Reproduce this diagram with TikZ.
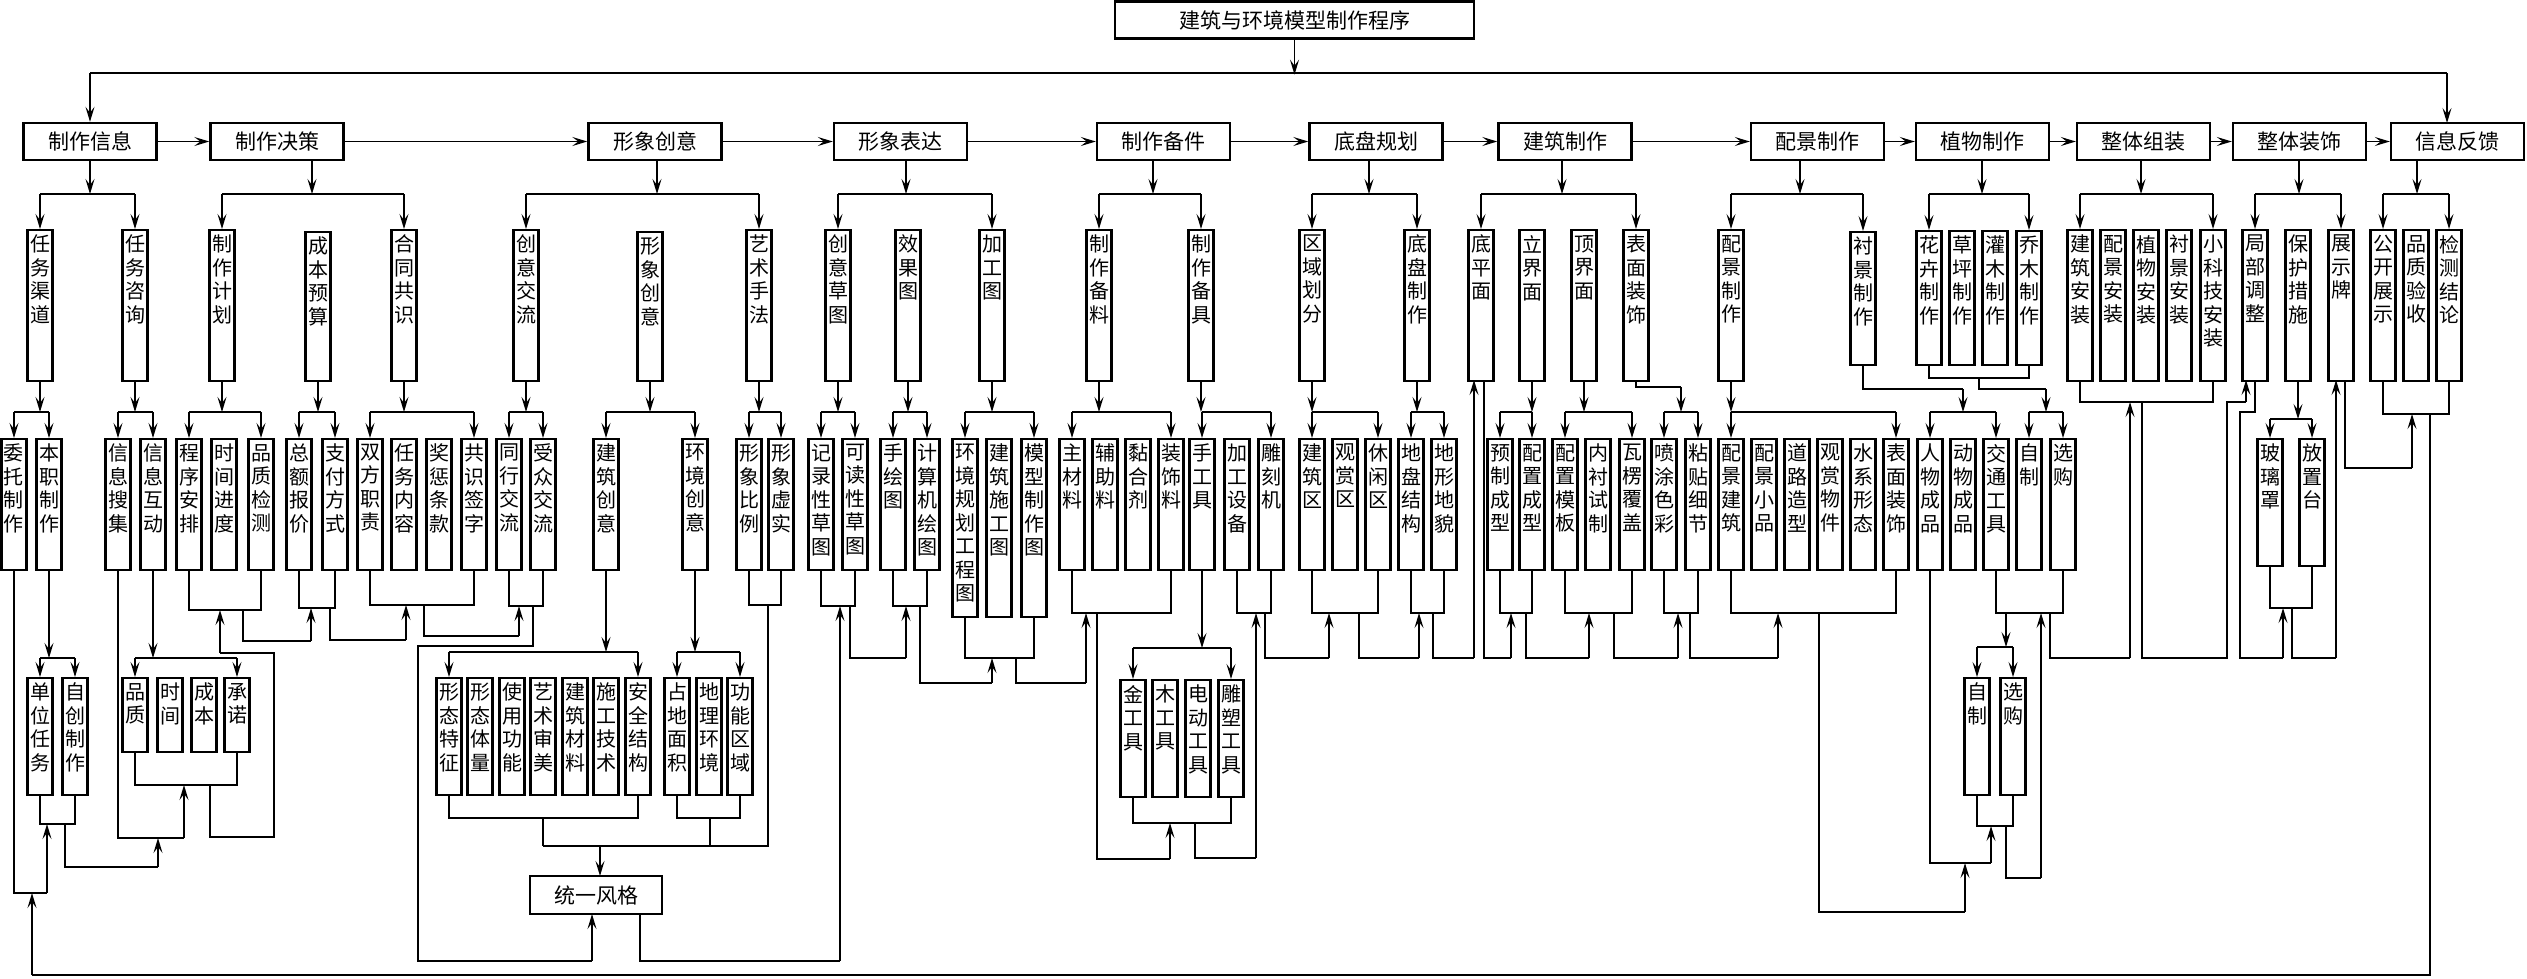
\documentclass[tikz,border=0pt]{standalone}
\usepackage{fontspec}
\setmainfont{Noto Sans CJK SC}
\usetikzlibrary{arrows.meta,calc}
\def\vtxt#1{\vtxtA#1\vtxtEnd}
\def\vtxtA#1#2\vtxtEnd{#1\ifx\relax#2\relax\else\par\vtxtA#2\vtxtEnd\fi}
\tikzset{
  mainbox/.style={draw, line width=2.4pt, minimum width=133pt, minimum height=37pt, inner sep=0pt, font=\fontsize{21}{24}\selectfont},
  vbx/.style={draw, line width=2.2pt, inner sep=0pt, anchor=north, font=\fontsize{20}{23.5}\selectfont},
  conn/.style={line width=1.4pt},
  bus/.style={line width=2.2pt},
  arr/.style={line width=1.4pt, -{Stealth[length=15pt,width=9pt,inset=6pt]}},
}
\newcommand\VB[5]{\node[vbx] (#1) at (#2,#3) {\parbox[t][#4pt][t]{25pt}{\centering\vspace*{5pt}\vtxt{#5}}};}
\newcommand\tfork[5]{\draw[conn] (#2,#1) -- (#3,#1); \draw[arr] (#2,#1) -- (#4.north); \draw[arr] (#3,#1) -- (#5.north);}
\newcommand\tmerge[5]{\draw[conn] (#4.south) -- (#2,#1) -- (#3,#1) -- (#5.south);}
\begin{document}
\begin{tikzpicture}[x=1pt,y=-1pt]
\useasboundingbox (0,0) rectangle (2527,978);
% ---------- title and main row ----------
\node[mainbox, minimum width=359pt] (t) at (1294.5,20) {建筑与环境模型制作程序};
\node[mainbox] (m1) at (90,141.5) {制作信息};
\node[mainbox] (m2) at (277,141.5) {制作决策};
\node[mainbox] (m3) at (655,141.5) {形象创意};
\node[mainbox] (m4) at (900.5,141.5) {形象表达};
\node[mainbox] (m5) at (1163.5,141.5) {制作备件};
\node[mainbox] (m6) at (1376,141.5) {底盘规划};
\node[mainbox] (m7) at (1565,141.5) {建筑制作};
\node[mainbox] (m8) at (1817.5,141.5) {配景制作};
\node[mainbox] (m9) at (1982.5,141.5) {植物制作};
\node[mainbox] (m10) at (2143.5,141.5) {整体组装};
\node[mainbox] (m11) at (2299.5,141.5) {整体装饰};
\node[mainbox] (m12) at (2457.5,141.5) {信息反馈};
\node[mainbox, minimum width=132pt, minimum height=38pt] (ty) at (596,895) {统一风格};
% ---------- level 2 ----------
\VB{A1}{40}{229}{151}{任务渠道}
\VB{A2}{135}{229}{151}{任务咨询}
\VB{B1}{222}{229}{151}{制作计划}
\VB{B2}{318}{231}{149}{成本预算}
\VB{B3}{404}{229}{151}{合同共识}
\VB{C1}{526}{229}{151}{创意交流}
\VB{C2}{650}{231}{149}{形象创意}
\VB{C3}{759}{229}{151}{艺术手法}
\VB{D1}{838}{229}{151}{创意草图}
\VB{D2}{908}{229}{151}{效果图}
\VB{D3}{992}{229}{151}{加工图}
\VB{E1}{1099}{229}{151}{制作备料}
\VB{E2}{1201}{229}{151}{制作备具}
\VB{F1}{1312}{229}{151}{区域划分}
\VB{F2}{1417}{229}{151}{底盘制作}
\VB{G1}{1481}{229}{151}{底平面}
\VB{G2}{1532}{229}{151}{立界面}
\VB{G3}{1584}{229}{151}{顶界面}
\VB{G4}{1636}{229}{151}{表面装饰}
\VB{H1}{1731}{229}{151}{配景制作}
\VB{H2}{1863}{231}{133}{衬景制作}
\VB{I1}{1929}{230}{134}{花卉制作}
\VB{I2}{1962}{230}{134}{草坪制作}
\VB{I3}{1995}{230}{134}{灌木制作}
\VB{I4}{2029}{230}{134}{乔木制作}
\VB{J1}{2080}{229}{151}{建筑安装}
\VB{J2}{2113}{229}{151}{配景安装}
\VB{J3}{2146}{229}{151}{植物安装}
\VB{J4}{2179}{229}{151}{衬景安装}
\VB{J5}{2213}{229}{151}{小科技安装}
\VB{K1}{2255}{229}{151}{局部调整}
\VB{K2}{2298}{229}{151}{保护措施}
\VB{K3}{2341}{229}{151}{展示牌}
\VB{N1}{2383}{229}{151}{公开展示}
\VB{N2}{2416}{229}{151}{品质验收}
\VB{N3}{2449}{229}{151}{检测结论}
% ---------- level 3 ----------
\VB{a1}{14}{438}{131}{委托制作}
\VB{a2}{49}{438}{131}{本职制作}
\VB{a3}{118}{438}{131}{信息搜集}
\VB{a4}{153}{438}{131}{信息互动}
\VB{b1}{189}{438}{131}{程序安排}
\VB{b2}{224}{438}{131}{时间进度}
\VB{b3}{261}{438}{131}{品质检测}
\VB{b4}{299}{438}{131}{总额报价}
\VB{b5}{335}{438}{131}{支付方式}
\VB{b6}{370}{438}{131}{双方职责}
\VB{b7}{404}{438}{131}{任务内容}
\VB{b8}{439}{438}{131}{奖惩条款}
\VB{b9}{474}{438}{131}{共识签字}
\VB{c1}{509}{438}{131}{同行交流}
\VB{c2}{543}{438}{131}{受众交流}
\VB{c3}{606}{438}{131}{建筑创意}
\VB{c4}{695}{438}{131}{环境创意}
\VB{c5}{749}{438}{131}{形象比例}
\VB{c6}{781}{438}{131}{形象虚实}
\VB{d1}{821}{438}{131}{记录性草图}
\VB{d2}{855}{438}{131}{可读性草图}
\VB{d3}{893}{438}{131}{手绘图}
\VB{d4}{927}{438}{131}{计算机绘图}
\VB{d5}{965}{438}{178}{环境规划工程图}
\VB{d6}{999}{438}{178}{建筑施工图}
\VB{d7}{1034}{438}{178}{模型制作图}
\VB{e1}{1072}{438}{131}{主材料}
\VB{e2}{1105}{438}{131}{辅助料}
\VB{e3}{1138}{438}{131}{黏合剂}
\VB{e4}{1171}{438}{131}{装饰料}
\VB{e5}{1202}{438}{131}{手工具}
\VB{e6}{1237}{438}{131}{加工设备}
\VB{e7}{1271}{438}{131}{雕刻机}
\VB{f1}{1312}{438}{131}{建筑区}
\VB{f2}{1345}{438}{131}{观赏区}
\VB{f3}{1378}{438}{131}{休闲区}
\VB{f4}{1411}{438}{131}{地盘结构}
\VB{f5}{1444}{438}{131}{地形地貌}
\VB{g1}{1500}{438}{131}{预制成型}
\VB{g2}{1532}{438}{131}{配置成型}
\VB{g3}{1565}{438}{131}{配置模板}
\VB{g4}{1598}{438}{131}{内衬试制}
\VB{g5}{1632}{438}{131}{瓦楞覆盖}
\VB{g6}{1664}{438}{131}{喷涂色彩}
\VB{g7}{1698}{438}{131}{粘贴细节}
\VB{h1}{1731}{438}{131}{配景建筑}
\VB{h2}{1764}{438}{131}{配景小品}
\VB{h3}{1797}{438}{131}{道路造型}
\VB{h4}{1830}{438}{131}{观赏物件}
\VB{h5}{1863}{438}{131}{水系形态}
\VB{h6}{1896}{438}{131}{表面装饰}
\VB{h7}{1930}{438}{131}{人物成品}
\VB{h8}{1963}{438}{131}{动物成品}
\VB{h9}{1996}{438}{131}{交通工具}
\VB{h10}{2029}{438}{131}{自制}
\VB{h11}{2063}{438}{131}{选购}
\VB{k1}{2270}{438}{127}{玻璃罩}
\VB{k2}{2312}{438}{127}{放置台}
% ---------- level 4 ----------
\VB{q1}{40}{677}{117}{单位任务}
\VB{q2}{75}{677}{117}{自创制作}
\VB{q3}{135}{677}{74}{品质}
\VB{q4}{170}{677}{74}{时间}
\VB{q5}{204}{677}{74}{成本}
\VB{q6}{237}{677}{74}{承诺}
\VB{r1}{449}{677}{117}{形态特征}
\VB{r2}{480}{677}{117}{形态体量}
\VB{r3}{512}{677}{117}{使用功能}
\VB{r4}{543}{677}{117}{艺术审美}
\VB{r5}{575}{677}{117}{建筑材料}
\VB{r6}{606}{677}{117}{施工技术}
\VB{r7}{638}{677}{117}{安全结构}
\VB{r8}{677}{677}{117}{占地面积}
\VB{r9}{709}{677}{117}{地理环境}
\VB{r10}{740}{677}{117}{功能区域}
\VB{s1}{1133}{679}{117}{金工具}
\VB{s2}{1165}{679}{117}{木工具}
\VB{s3}{1198}{679}{117}{电动工具}
\VB{s4}{1231}{679}{117}{雕塑工具}
\VB{u1}{1977}{677}{117}{自制}
\VB{u2}{2013}{677}{117}{选购}
% ---------- top bus ----------
\draw[bus] (90,73) -- (2447,73);
\draw[arr] (t.south) -- ++(0,35);
\draw[arr] (90,73) -- (m1.north);
\draw[arr] (2447,73) -- (2447,123);
% ---------- main row arrows ----------
\draw[arr] (m1.east) -- (m2.west);
\draw[arr] (m2.east) -- (m3.west);
\draw[arr] (m3.east) -- (m4.west);
\draw[arr] (m4.east) -- (m5.west);
\draw[arr] (m5.east) -- (m6.west);
\draw[arr] (m6.east) -- (m7.west);
\draw[arr] (m7.east) -- (m8.west);
\draw[arr] (m8.east) -- (m9.west);
\draw[arr] (m9.east) -- (m10.west);
\draw[arr] (m10.east) -- (m11.west);
\draw[arr] (m11.east) -- (m12.west);
% ---------- main -> level 2 ----------
\draw[arr] (m1.south) -- (90,194);            \tfork{194}{40}{135}{A1}{A2}
\draw[arr] ($(m2.south)+(35,0)$) -- (312,194); \tfork{194}{222}{404}{B1}{B3}
\draw[arr] ($(m3.south)+(2,0)$) -- (657,194);  \tfork{194}{526}{759}{C1}{C3}
\draw[arr] ($(m4.south)+(5.5,0)$) -- (906,194); \tfork{194}{838}{992}{D1}{D3}
\draw[arr] ($(m5.south)+(-10.5,0)$) -- (1153,194); \tfork{194}{1099}{1201}{E1}{E2}
\draw[arr] ($(m6.south)+(-7,0)$) -- (1369,194); \tfork{194}{1312}{1417}{F1}{F2}
\draw[arr] ($(m7.south)+(-3,0)$) -- (1562,194); \tfork{194}{1481}{1636}{G1}{G4}
\draw[arr] ($(m8.south)+(-17.5,0)$) -- (1800,194); \tfork{194}{1731}{1863}{H1}{H2}
\draw[arr] ($(m9.south)+(-0.5,0)$) -- (1982,194); \tfork{194}{1929}{2029}{I1}{I4}
\draw[arr] ($(m10.south)+(-2.5,0)$) -- (2141,194); \tfork{194}{2080}{2213}{J1}{J5}
\draw[arr] ($(m11.south)+(-0.5,0)$) -- (2299,194); \tfork{194}{2255}{2341}{K1}{K3}
\draw[arr] ($(m12.south)+(-40.5,0)$) -- (2417,194); \tfork{194}{2383}{2449}{N1}{N3}
% ---------- level 2 -> level 3 ----------
\draw[arr] (A1.south) -- (40,412); \tfork{412}{14}{49}{a1}{a2}
\draw[arr] (A2.south) -- (135,412); \tfork{412}{118}{153}{a3}{a4}
\draw[arr] (B1.south) -- (222,412); \tfork{412}{189}{261}{b1}{b3}
\draw[arr] (B2.south) -- (318,412); \tfork{412}{299}{335}{b4}{b5}
\draw[arr] (B3.south) -- (404,412); \tfork{412}{370}{474}{b6}{b9}
\draw[arr] (C1.south) -- (526,412); \tfork{412}{509}{543}{c1}{c2}
\draw[arr] (C2.south) -- (650,412); \tfork{412}{606}{695}{c3}{c4}
\draw[arr] (C3.south) -- (759,412); \tfork{412}{749}{781}{c5}{c6}
\draw[arr] (D1.south) -- (838,412); \tfork{412}{821}{855}{d1}{d2}
\draw[arr] (D2.south) -- (908,412); \tfork{412}{893}{927}{d3}{d4}
\draw[arr] (D3.south) -- (992,412); \tfork{412}{965}{1034}{d5}{d7}
\draw[arr] (E1.south) -- (1099,412); \tfork{412}{1072}{1171}{e1}{e4}
\draw[arr] (E2.south) -- (1201,412); \tfork{412}{1202}{1271}{e5}{e7}
\draw[arr] (F1.south) -- (1312,412); \tfork{412}{1312}{1378}{f1}{f3}
\draw[arr] (F2.south) -- (1417,412); \tfork{412}{1411}{1444}{f4}{f5}
\draw[arr] (G2.south) -- (1532,412); \tfork{412}{1500}{1532}{g1}{g2}
\draw[arr] (G3.south) -- (1584,412); \tfork{412}{1565}{1632}{g3}{g5}
\draw[conn] (G4.south) -- (1636,387) -- (1681,387); \draw[arr] (1681,387) -- (1681,412); \tfork{412}{1664}{1698}{g6}{g7}
\draw[arr] (H1.south) -- (1731,412); \tfork{412}{1731}{1896}{h1}{h6}
\draw[conn] (H2.south) -- (1863,389) -- (1963,389); \draw[arr] (1963,389) -- (1963,412); \tfork{412}{1930}{1996}{h7}{h9}
\tmerge{378}{1929}{2029}{I1}{I4}
\draw[conn] (1979,378) -- (1979,389) -- (2046,389); \draw[arr] (2046,389) -- (2046,412); \tfork{412}{2029}{2063}{h10}{h11}
\draw[arr] (K2.south) -- (2298,419); \tfork{419}{2270}{2312}{k1}{k2}
% ---------- level 3 -> level 4 ----------
\draw[arr] (a2.south) -- (49,658); \tfork{658}{40}{75}{q1}{q2}
\draw[arr] (a4.south) -- (153,658); \tfork{658}{135}{237}{q3}{q6}
\draw[arr] (c3.south) -- (606,652); \tfork{652}{449}{638}{r1}{r7}
\draw[arr] (c4.south) -- (695,652); \tfork{652}{677}{740}{r8}{r10}
\draw[arr] (e5.south) -- (1202,648); \tfork{648}{1133}{1231}{s1}{s4}
\tmerge{613}{1996}{2063}{h9}{h11}
\draw[arr] (2006,613) -- (2006,647); \tfork{647}{1977}{2013}{u1}{u2}
% ---------- feedback loops, left part ----------
\draw[conn] (a1.south) -- (14,893) -- (47,893); \draw[arr] (47,893) -- (47,824);
\tmerge{824}{40}{75}{q1}{q2}
\draw[conn] (65,824) -- (65,867) -- (158,867); \draw[arr] (158,867) -- (158,838);
\draw[conn] (a3.south) -- (118,838) -- (184,838); \draw[arr] (184,838) -- (184,785);
\tmerge{785}{135}{237}{q3}{q6}
\draw[conn] (210,785) -- (210,837) -- (274,837) -- (274,653) -- (220,653); \draw[arr] (220,653) -- (220,610);
\tmerge{610}{189}{261}{b1}{b3}
\draw[conn] (243,610) -- (243,641) -- (311,641); \draw[arr] (311,641) -- (311,608);
\tmerge{608}{299}{335}{b4}{b5}
\draw[conn] (330,608) -- (330,640) -- (406,640); \draw[arr] (406,640) -- (406,605);
\tmerge{605}{370}{474}{b6}{b9}
\draw[conn] (424,605) -- (424,636) -- (519,636); \draw[arr] (519,636) -- (519,606);
\tmerge{606}{509}{543}{c1}{c2}
\draw[conn] (533,606) -- (533,646) -- (418,646) -- (418,961) -- (592,961); \draw[arr] (592,961) -- (592,914);
\tmerge{818}{449}{638}{r1}{r7}
\tmerge{818}{677}{740}{r8}{r10}
\draw[conn] (543,818) -- (543,846);
\draw[conn] (710,818) -- (710,846);
\tmerge{605}{749}{781}{c5}{c6}
\draw[conn] (543,846) -- (768,846) -- (768,605);
\draw[arr] (600,846) -- (600,876);
\draw[conn] (640,914) -- (640,961) -- (840,961); \draw[arr] (840,961) -- (840,606);
\tmerge{606}{821}{855}{d1}{d2}
\draw[conn] (850,606) -- (850,658) -- (906,658); \draw[arr] (906,658) -- (906,606);
\tmerge{606}{893}{927}{d3}{d4}
\draw[conn] (920,606) -- (920,683) -- (992,683); \draw[arr] (992,683) -- (992,658);
\tmerge{658}{965}{1034}{d5}{d7}
\draw[conn] (1016,658) -- (1016,683) -- (1086,683); \draw[arr] (1086,683) -- (1086,613);
\tmerge{613}{1072}{1171}{e1}{e4}
\draw[conn] (1097,613) -- (1097,859) -- (1170,859); \draw[arr] (1170,859) -- (1170,823);
\tmerge{823}{1133}{1231}{s1}{s4}
\draw[conn] (1195,823) -- (1195,858) -- (1256,858); \draw[arr] (1256,858) -- (1256,613);
\tmerge{613}{1237}{1271}{e6}{e7}
\draw[conn] (1265,613) -- (1265,658) -- (1329,658); \draw[arr] (1329,658) -- (1329,613);
\tmerge{613}{1312}{1378}{f1}{f3}
\draw[conn] (1359,613) -- (1359,658) -- (1419,658); \draw[arr] (1419,658) -- (1419,613);
\tmerge{613}{1411}{1444}{f4}{f5}
\draw[conn] (1433,613) -- (1433,658) -- (1474,658); \draw[arr] (1474,658) -- (1474,380);
\draw[conn] (1484,380) -- (1484,658) -- (1511,658); \draw[arr] (1511,658) -- (1511,613);
\tmerge{613}{1500}{1532}{g1}{g2}
\draw[conn] (1526,613) -- (1526,658) -- (1589,658); \draw[arr] (1589,658) -- (1589,613);
\tmerge{613}{1565}{1632}{g3}{g5}
\draw[conn] (1614,613) -- (1614,658) -- (1678,658); \draw[arr] (1678,658) -- (1678,613);
\tmerge{613}{1664}{1698}{g6}{g7}
\draw[conn] (1690,613) -- (1690,658) -- (1778,658); \draw[arr] (1778,658) -- (1778,613);
\tmerge{613}{1731}{1896}{h1}{h6}
\draw[conn] (1819,613) -- (1819,912) -- (1965,912); \draw[arr] (1965,912) -- (1965,863);
\draw[conn] (h7.south) -- (1930,863) -- (1991,863); \draw[arr] (1991,863) -- (1991,826);
\tmerge{826}{1977}{2013}{u1}{u2}
\draw[conn] (2006,826) -- (2006,878) -- (2041,878); \draw[arr] (2041,878) -- (2041,613);
\draw[conn] (2050,613) -- (2050,658) -- (2130,658); \draw[arr] (2130,658) -- (2130,402);
\tmerge{402}{2080}{2213}{J1}{J5}
\draw[conn] (2142,402) -- (2142,658) -- (2227,658) -- (2227,402) -- (2246,402); \draw[arr] (2246,402) -- (2246,380);
\draw[conn] (K1.south) -- (2255,412) -- (2240,412) -- (2240,658) -- (2283,658); \draw[arr] (2283,658) -- (2283,608);
\tmerge{608}{2270}{2312}{k1}{k2}
\draw[conn] (2292,608) -- (2292,658) -- (2336,658); \draw[arr] (2336,658) -- (2336,380);
\draw[conn] (2345,380) -- (2345,468) -- (2412,468); \draw[arr] (2412,468) -- (2412,414);
\tmerge{414}{2383}{2449}{N1}{N3}
\draw[conn] (2430,414) -- (2430,975) -- (32,975); \draw[arr] (32,975) -- (32,893);
\end{tikzpicture}
\end{document}
